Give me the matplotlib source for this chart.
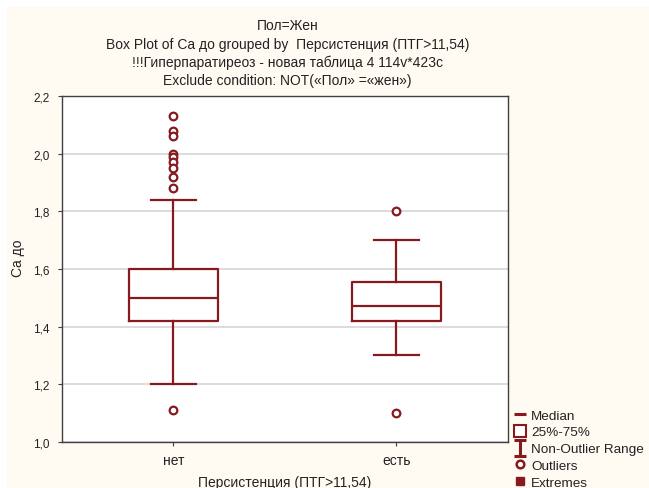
import numpy as np
import matplotlib
matplotlib.use('Agg')
import matplotlib.pyplot as plt
from matplotlib.lines import Line2D
from matplotlib.path import Path
from matplotlib.patches import Rectangle

plt.rcParams['font.family'] = ['Liberation Sans', 'DejaVu Sans']

# Группы и статистики ящиков (Ca до)
groups = ['нет', 'есть']
medians = [1.50, 1.47]
q1 = [1.42, 1.42]
q3 = [1.60, 1.555]
whisk_lo = [1.20, 1.30]
whisk_hi = [1.84, 1.70]
outliers = [
    [2.13, 2.08, 2.06, 2.00, 1.99, 1.97, 1.95, 1.92, 1.88, 1.11],
    [1.80, 1.10],
]

yticks = [1.0, 1.2, 1.4, 1.6, 1.8, 2.0, 2.2]
ytick_labels = ['1,0', '1,2', '1,4', '1,6', '1,8', '2,0', '2,2']

title_lines = [
    'Пол=Жен',
    'Box Plot of Ca до grouped by  Персистенция (ПТГ>11,54)',
    '!!!Гиперпаратиреоз - новая таблица 4 114v*423c',
    'Exclude condition: NOT(«Пол» =«жен»)',
]

red = '#861a1f'
cream = '#fffbf3'
txt = '#222222'
fs = 10

fig = plt.figure(figsize=(6.49, 4.89), dpi=100, facecolor='white')
fig.patches.append(Rectangle((0.011, 0.0), 1.0, 0.984, transform=fig.transFigure,
                             facecolor=cream, edgecolor='none', zorder=-10))

ax = fig.add_axes([0.0955, 0.0941, 0.6872, 0.7076])
ax.set_facecolor('white')

stats = []
for i in range(len(groups)):
    stats.append(dict(med=medians[i], q1=q1[i], q3=q3[i],
                      whislo=whisk_lo[i], whishi=whisk_hi[i],
                      fliers=outliers[i], label=groups[i]))

line_kw = dict(color=red, linewidth=1.6)
ax.bxp(stats, positions=[1, 2], widths=0.4, showfliers=True,
       boxprops=line_kw, medianprops=line_kw, whiskerprops=line_kw,
       capprops=line_kw, capwidths=0.2,
       flierprops=dict(marker='o', markersize=5.5, markerfacecolor='white',
                       markeredgecolor=red, markeredgewidth=1.6))

ax.set_xlim(0.5, 2.5)
ax.set_ylim(1.0, 2.2)
ax.set_yticks(yticks)
ax.set_yticklabels(ytick_labels)
ax.set_xticks([1, 2])
ax.set_xticklabels(groups)
ax.yaxis.grid(True, color='#d9d9d9', linewidth=1.3)
ax.set_axisbelow(True)
for s in ax.spines.values():
    s.set_color('#404040')
    s.set_linewidth(1.0)
ax.tick_params(axis='both', colors='#404040', labelcolor=txt,
               length=3, width=0.8, direction='out')
ax.tick_params(axis='y', labelsize=8.5, pad=6)
ax.tick_params(axis='x', labelsize=fs, pad=5)

ax.set_ylabel('Ca до', fontsize=fs, color=txt)
ax.yaxis.set_label_coords(-0.082, 0.535)
ax.set_xlabel('Персистенция (ПТГ>11,54)', fontsize=fs, color=txt, labelpad=6)

# заголовок из четырёх строк
for k, line in enumerate(title_lines):
    fig.text(0.443, 0.946 - k * 0.0375, line, ha='center', va='center',
             fontsize=fs, color=txt)

# легенда с маркерами STATISTICA
ibeam = Path([(-0.7, 1), (0.7, 1), (0, 1), (0, -1), (-0.7, -1), (0.7, -1)],
             [Path.MOVETO, Path.LINETO, Path.MOVETO, Path.LINETO,
              Path.MOVETO, Path.LINETO])
handles = [
    Line2D([], [], linestyle='none', marker='_', markersize=9,
           markeredgewidth=2.2, color=red),
    Line2D([], [], linestyle='none', marker='s', markersize=8,
           markerfacecolor='white', markeredgecolor=red, markeredgewidth=1.5),
    Line2D([], [], linestyle='none', marker=ibeam, markersize=12,
           markerfacecolor='none', markeredgecolor=red, markeredgewidth=2.2),
    Line2D([], [], linestyle='none', marker='o', markersize=5.5,
           markerfacecolor='white', markeredgecolor=red, markeredgewidth=1.8),
    Line2D([], [], linestyle='none', marker='s', markersize=5.5,
           markerfacecolor=red, markeredgecolor=red),
]
labels = ['Median', '25%-75%', 'Non-Outlier Range', 'Outliers', 'Extremes']
fig.legend(handles, labels, loc='lower left', bbox_to_anchor=(0.783, -0.016),
           frameon=False, fontsize=9.7, handlelength=0.8, handletextpad=0.4,
           labelspacing=0.33, borderpad=0.0, labelcolor=txt)

fig.savefig('out.png', dpi=100)
